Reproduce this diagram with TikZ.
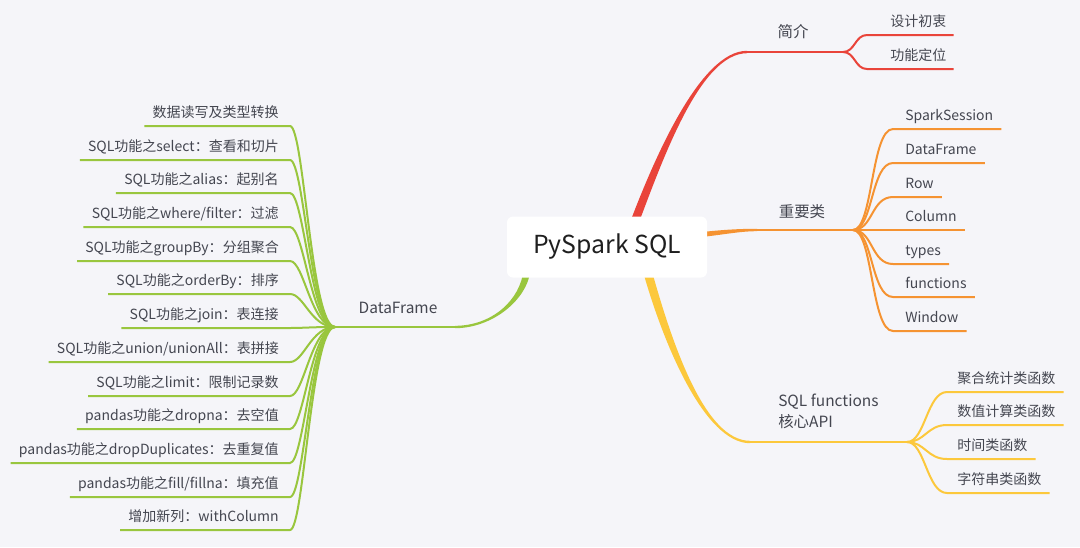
\documentclass[tikz,border=0pt]{standalone}
\usepackage{fontspec}
\setmainfont{Noto Sans CJK SC}
\usepackage{tikz}
\usetikzlibrary{calc, backgrounds}
\definecolor{pagebg}{RGB}{245, 245, 249}
\definecolor{inkgray}{RGB}{68, 70, 80}
\definecolor{introred}{RGB}{233, 68, 58}
\definecolor{classorange}{RGB}{245, 147, 50}
\definecolor{funcyellow}{RGB}{252, 200, 60}
\definecolor{dfgreen}{RGB}{153, 198, 62}

% tapered main branch: colour, start, control 1, control 2, end, start offset, end offset
\newcommand{\mainbranch}[7]{%
    \fill[#1] ($#2+#6$) .. controls ($#3+#6$) and ($#4+#7$) .. ($#5+#7$)
        -- ($#5-#7$) .. controls ($#4-#7$) and ($#3-#6$) .. ($#2-#6$) -- cycle;}

\begin{document}
\begin{tikzpicture}[
        x=0.75pt, y=-0.75pt,
        rootbox/.style={
            rectangle, rounded corners=4.5pt, fill=white, text=black!88,
            minimum width=150pt, minimum height=45.75pt,
            font=\fontsize{18.6}{22}\selectfont,
        },
        branch/.style={inner sep=0pt, text=inkgray, font=\fontsize{11.6}{15.8}\selectfont},
        leaf/.style={inner sep=0pt, text=inkgray, font=\fontsize{10.5}{12}\selectfont},
        trunk/.style={draw=#1, line width=1.8pt},
        twig/.style={draw=#1, line width=1.5pt},
    ]
        \useasboundingbox (0,0) rectangle (1080,547);
        \node[rootbox] (root) at (607,247) {PySpark SQL};

        % forks
        \coordinate (rs) at ($(root.north)+(26,10)$);
        \coordinate (jjL) at (747,52);
        \coordinate (jjF) at (843,52);
        \coordinate (os) at ($(root.east)+(-10,-12)$);
        \coordinate (kjL) at (757,230);
        \coordinate (kjF) at (853,230);
        \coordinate (ys) at ($(root.south)+(40,-8)$);
        \coordinate (hxL) at (750,442);
        \coordinate (hxF) at (907,442);
        \coordinate (gs) at ($(root.south)+(-80,-8)$);
        \coordinate (dfL) at (455,327);
        \coordinate (dfF) at (335,327);

        \begin{scope}[on background layer]
            \fill[pagebg] (0,0) rectangle (1080,547);
            \mainbranch{introred}{(rs)}{(658,160)}{(700,52)}{(jjL)}{(-4.5,0)}{(0,-1.2)}
            \mainbranch{classorange}{(os)}{(725,232)}{(740,230)}{(kjL)}{(0,-2.5)}{(0,-1.2)}
            \mainbranch{funcyellow}{(ys)}{(668,345)}{(705,442)}{(hxL)}{(4.5,0)}{(0,-1.2)}
            \mainbranch{dfgreen}{(gs)}{(524,300)}{(492,327)}{(dfL)}{(3.5,0)}{(0,1.2)}
        \end{scope}
        \draw[trunk=introred] (jjL) -- (jjF);
        \draw[trunk=classorange] (kjL) -- (kjF);
        \draw[trunk=funcyellow] (hxL) -- (hxF);
        \draw[trunk=dfgreen] (dfL) -- (dfF);

        \node[branch, anchor=base] (jj) at (793,37) {简介};
        \node[branch, anchor=base] (kj) at (802,217) {重要类};
        \node[branch, anchor=base] (df) at (398,313) {DataFrame};
        \node[branch, align=left, anchor=west] (hx) at (778,411) {SQL functions\\核心API};

        % 简介
        \node[leaf, anchor=base west] (j1) at (890,26) {设计初衷};
        \node[leaf, anchor=base west] (j2) at (890,60) {功能定位};
        \draw[twig=introred] (jjF) .. controls +(12,0) and +(-12,0) .. ($(j1.base west)+(-23,9)$) -- ($(j1.base east)+(7,9)$);
        \draw[twig=introred] (jjF) .. controls +(12,0) and +(-12,0) .. ($(j2.base west)+(-23,9)$) -- ($(j2.base east)+(7,9)$);

        % 重要类
        \node[leaf, anchor=base west] (k1) at (905,120) {SparkSession};
        \node[leaf, anchor=base west] (k2) at (905,154) {DataFrame};
        \node[leaf, anchor=base west] (k3) at (905,188) {Row};
        \node[leaf, anchor=base west] (k4) at (905,221) {Column};
        \node[leaf, anchor=base west] (k5) at (905,255) {types};
        \node[leaf, anchor=base west] (k6) at (905,288) {functions};
        \node[leaf, anchor=base west] (k7) at (905,322) {Window};
        \draw[twig=classorange] (kjF) .. controls +(20,0) and +(-22,0) .. ($(k1.base west)+(-12,9)$) -- ($(k1.base east)+(8,9)$);
        \draw[twig=classorange] (kjF) .. controls +(20,0) and +(-22,0) .. ($(k2.base west)+(-12,9)$) -- ($(k2.base east)+(8,9)$);
        \draw[twig=classorange] (kjF) .. controls +(20,0) and +(-22,0) .. ($(k3.base west)+(-12,9)$) -- ($(k3.base east)+(8,9)$);
        \draw[twig=classorange] (kjF) .. controls +(20,0) and +(-22,0) .. ($(k4.base west)+(-12,9)$) -- ($(k4.base east)+(8,9)$);
        \draw[twig=classorange] (kjF) .. controls +(20,0) and +(-22,0) .. ($(k5.base west)+(-12,9)$) -- ($(k5.base east)+(8,9)$);
        \draw[twig=classorange] (kjF) .. controls +(20,0) and +(-22,0) .. ($(k6.base west)+(-12,9)$) -- ($(k6.base east)+(8,9)$);
        \draw[twig=classorange] (kjF) .. controls +(20,0) and +(-22,0) .. ($(k7.base west)+(-12,9)$) -- ($(k7.base east)+(8,9)$);

        % SQL functions
        \node[leaf, anchor=base west] (h1) at (957,383) {聚合统计类函数};
        \node[leaf, anchor=base west] (h2) at (957,416) {数值计算类函数};
        \node[leaf, anchor=base west] (h3) at (957,450) {时间类函数};
        \node[leaf, anchor=base west] (h4) at (957,484) {字符串类函数};
        \draw[twig=funcyellow] (hxF) .. controls +(18,0) and +(-20,0) .. ($(h1.base west)+(-10,9)$) -- ($(h1.base east)+(8,9)$);
        \draw[twig=funcyellow] (hxF) .. controls +(18,0) and +(-20,0) .. ($(h2.base west)+(-10,9)$) -- ($(h2.base east)+(8,9)$);
        \draw[twig=funcyellow] (hxF) .. controls +(18,0) and +(-20,0) .. ($(h3.base west)+(-10,9)$) -- ($(h3.base east)+(8,9)$);
        \draw[twig=funcyellow] (hxF) .. controls +(18,0) and +(-20,0) .. ($(h4.base west)+(-10,9)$) -- ($(h4.base east)+(8,9)$);

        % DataFrame
        \node[leaf, anchor=base east] (d1) at (279,117) {数据读写及类型转换};
        \node[leaf, anchor=base east] (d2) at (279,151) {SQL功能之select：查看和切片};
        \node[leaf, anchor=base east] (d3) at (279,184) {SQL功能之alias：起别名};
        \node[leaf, anchor=base east] (d4) at (279,218) {SQL功能之where/filter：过滤};
        \node[leaf, anchor=base east] (d5) at (279,252) {SQL功能之groupBy：分组聚合};
        \node[leaf, anchor=base east] (d6) at (279,285) {SQL功能之orderBy：排序};
        \node[leaf, anchor=base east] (d7) at (279,319) {SQL功能之join：表连接};
        \node[leaf, anchor=base east] (d8) at (279,353) {SQL功能之union/unionAll：表拼接};
        \node[leaf, anchor=base east] (d9) at (279,387) {SQL功能之limit：限制记录数};
        \node[leaf, anchor=base east] (d10) at (279,420) {pandas功能之dropna：去空值};
        \node[leaf, anchor=base east] (d11) at (279,454) {pandas功能之dropDuplicates：去重复值};
        \node[leaf, anchor=base east] (d12) at (279,488) {pandas功能之fill/fillna：填充值};
        \node[leaf, anchor=base east] (d13) at (279,521) {增加新列：withColumn};
        \draw[twig=dfgreen] (dfF) .. controls +(-24,0) and +(14,0) .. ($(d1.base east)+(11,9)$) -- ($(d1.base west)+(-8,9)$);
        \draw[twig=dfgreen] (dfF) .. controls +(-24,0) and +(14,0) .. ($(d2.base east)+(11,9)$) -- ($(d2.base west)+(-8,9)$);
        \draw[twig=dfgreen] (dfF) .. controls +(-24,0) and +(14,0) .. ($(d3.base east)+(11,9)$) -- ($(d3.base west)+(-8,9)$);
        \draw[twig=dfgreen] (dfF) .. controls +(-24,0) and +(14,0) .. ($(d4.base east)+(11,9)$) -- ($(d4.base west)+(-8,9)$);
        \draw[twig=dfgreen] (dfF) .. controls +(-24,0) and +(14,0) .. ($(d5.base east)+(11,9)$) -- ($(d5.base west)+(-8,9)$);
        \draw[twig=dfgreen] (dfF) .. controls +(-24,0) and +(14,0) .. ($(d6.base east)+(11,9)$) -- ($(d6.base west)+(-8,9)$);
        \draw[twig=dfgreen] (dfF) .. controls +(-24,0) and +(14,0) .. ($(d7.base east)+(11,9)$) -- ($(d7.base west)+(-8,9)$);
        \draw[twig=dfgreen] (dfF) .. controls +(-24,0) and +(14,0) .. ($(d8.base east)+(11,9)$) -- ($(d8.base west)+(-8,9)$);
        \draw[twig=dfgreen] (dfF) .. controls +(-24,0) and +(14,0) .. ($(d9.base east)+(11,9)$) -- ($(d9.base west)+(-8,9)$);
        \draw[twig=dfgreen] (dfF) .. controls +(-24,0) and +(14,0) .. ($(d10.base east)+(11,9)$) -- ($(d10.base west)+(-8,9)$);
        \draw[twig=dfgreen] (dfF) .. controls +(-24,0) and +(14,0) .. ($(d11.base east)+(11,9)$) -- ($(d11.base west)+(-8,9)$);
        \draw[twig=dfgreen] (dfF) .. controls +(-24,0) and +(14,0) .. ($(d12.base east)+(11,9)$) -- ($(d12.base west)+(-8,9)$);
        \draw[twig=dfgreen] (dfF) .. controls +(-24,0) and +(14,0) .. ($(d13.base east)+(11,9)$) -- ($(d13.base west)+(-8,9)$);
    \end{tikzpicture}
\end{document}
